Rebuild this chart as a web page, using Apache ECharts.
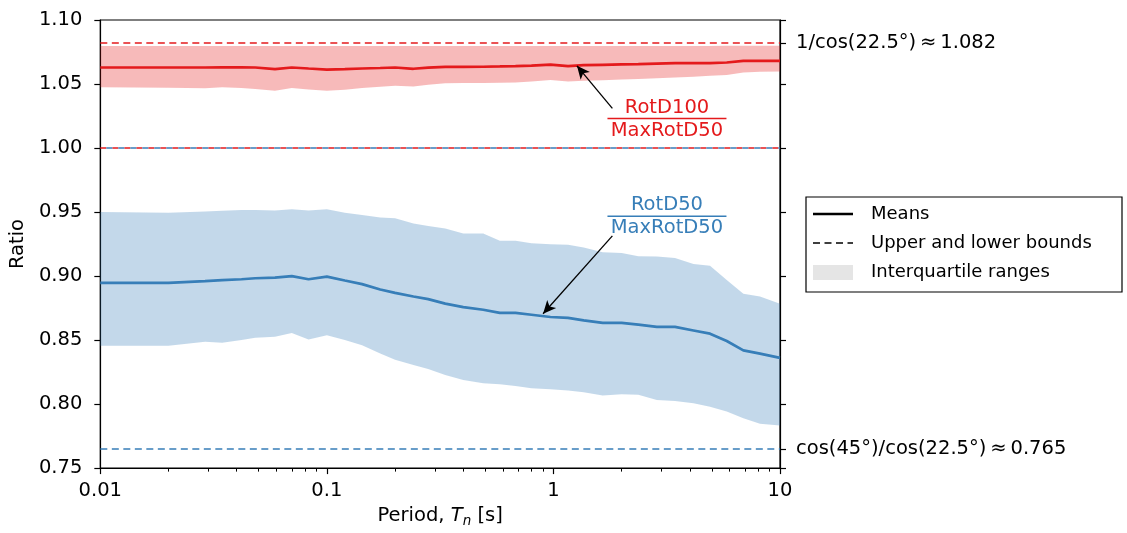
<!DOCTYPE html>
<html>
<head>
<meta charset="utf-8">
<script src="https://cdn.jsdelivr.net/npm/echarts@6/dist/echarts.min.js"></script>
<style>
  html, body { margin: 0; padding: 0; background: #fff; }
  #chart { width: 1127px; height: 533px; }
</style>
</head>
<body>
<div id="chart"></div>
<script>
// periods (s)
const periods = [0.01, 0.02, 0.029, 0.0345, 0.042, 0.0483, 0.059, 0.07, 0.083, 0.1, 0.12, 0.143,
  0.172, 0.2, 0.241, 0.28, 0.333, 0.4, 0.49, 0.58, 0.68, 0.8, 0.97, 1.16,
  1.36, 1.65, 2.0, 2.37, 2.86, 3.44, 4.15, 4.91, 5.82, 6.89, 8.16, 10];

// RotD100 / MaxRotD50
const redMean = [1.0629, 1.0629, 1.0629, 1.0630, 1.0630, 1.0629, 1.0616, 1.0629, 1.0621, 1.0613, 1.0616, 1.0621,
  1.0625, 1.0629, 1.0619, 1.0628, 1.0634, 1.0634, 1.0635, 1.0637, 1.0639, 1.0643, 1.0652, 1.0639,
  1.0647, 1.0650, 1.0653, 1.0655, 1.0660, 1.0663, 1.0663, 1.0663, 1.0668, 1.0681, 1.0681, 1.0681];
const redLower = [1.0474, 1.0470, 1.0466, 1.0474, 1.0468, 1.0461, 1.0448, 1.0469, 1.0458, 1.0448, 1.0455, 1.0469,
  1.0478, 1.0487, 1.0481, 1.0495, 1.0505, 1.0507, 1.0508, 1.0510, 1.0512, 1.0520, 1.0531, 1.0520,
  1.0526, 1.0530, 1.0535, 1.0539, 1.0545, 1.0551, 1.0557, 1.0564, 1.0570, 1.0590, 1.0595, 1.0598];
const redUpper = [1.0797, 1.0797, 1.0797, 1.0797, 1.0797, 1.0797, 1.0797, 1.0797, 1.0797, 1.0797, 1.0797, 1.0797,
  1.0797, 1.0797, 1.0797, 1.0797, 1.0797, 1.0797, 1.0797, 1.0797, 1.0797, 1.0797, 1.0797, 1.0797,
  1.0797, 1.0797, 1.0797, 1.0797, 1.0797, 1.0797, 1.0797, 1.0797, 1.0798, 1.0799, 1.0799, 1.0799];

// RotD50 / MaxRotD50
const blueMean = [0.8947, 0.8947, 0.8960, 0.8968, 0.8975, 0.8983, 0.8988, 0.8999, 0.8975, 0.8996, 0.8965, 0.8937,
  0.8895, 0.8869, 0.8840, 0.8820, 0.8785, 0.8757, 0.8737, 0.8712, 0.8712, 0.8698, 0.8680, 0.8673,
  0.8654, 0.8634, 0.8634, 0.8621, 0.8603, 0.8603, 0.8575, 0.8550, 0.8493, 0.8420, 0.8394, 0.8361];
const blueUpper = [0.9500, 0.9495, 0.9505, 0.9510, 0.9516, 0.9516, 0.9513, 0.9521, 0.9513, 0.9521, 0.9495, 0.9477,
  0.9457, 0.9451, 0.9410, 0.9391, 0.9371, 0.9332, 0.9332, 0.9275, 0.9275, 0.9257, 0.9249, 0.9244,
  0.9224, 0.9185, 0.9180, 0.9154, 0.9152, 0.9141, 0.9094, 0.9080, 0.8969, 0.8861, 0.8840, 0.8784];
const blueLower = [0.8455, 0.8455, 0.8486, 0.8479, 0.8500, 0.8518, 0.8525, 0.8556, 0.8504, 0.8538, 0.8500, 0.8460,
  0.8396, 0.8347, 0.8305, 0.8274, 0.8227, 0.8188, 0.8163, 0.8155, 0.8142, 0.8124, 0.8116, 0.8106,
  0.8093, 0.8067, 0.8077, 0.8072, 0.8032, 0.8024, 0.8006, 0.7980, 0.7942, 0.7890, 0.7846, 0.7833];

// bounds (dashed lines)
const redBounds = [1.082, 1.0];
const blueBounds = [1.0, 0.765];

// axis ticks
const yTicks = [0.75, 0.80, 0.85, 0.90, 0.95, 1.00, 1.05, 1.10];
const xMinorTicks = [0.02, 0.03, 0.04, 0.05, 0.06, 0.07, 0.08, 0.09,
  0.2, 0.3, 0.4, 0.5, 0.6, 0.7, 0.8, 0.9, 2, 3, 4, 5, 6, 7, 8, 9];
const rightLabels = { '1.082': '1/cos(22.5°)\u2009≈\u20091.082', '0.765': 'cos(45°)/cos(22.5°)\u2009≈\u20090.765' };

// annotations: arrow tail, arrow head, fraction label centre (data coords)
const redArrow = [[1.82, 1.031], [1.27, 1.0642]];
const blueArrow = [[1.82, 0.9314], [0.9, 0.8706]];
const redLabelAt = [3.17, 1.0231];
const blueLabelAt = [3.17, 0.9467];

const RED = '#e41a1c';
const BLUE = '#377eb8';
const FONT = 'DejaVu Sans';
const FS = 19.5;

const chart = echarts.init(document.getElementById('chart'));

function pairs(ys) {
  return periods.map((p, i) => [p, ys[i]]);
}

// interquartile band: one polygon through the upper values and back along the lower ones
function band(lower, upper, color) {
  return {
    type: 'custom', silent: true, z: 1, clip: true,
    data: periods.map((p, i) => [p, lower[i], upper[i]]),
    encode: { x: 0, y: [1, 2] },
    renderItem: (params, api) => {
      if (params.dataIndex !== 0) return null;
      const top = periods.map((p, i) => api.coord([p, upper[i]]));
      const bottom = periods.map((p, i) => api.coord([p, lower[i]])).reverse();
      return {
        type: 'polygon',
        shape: { points: top.concat(bottom) },
        style: { fill: color, opacity: 0.3 }
      };
    }
  };
}

const arrowStyle = { color: '#000', type: 'solid', width: 1.3 };

function arrow(a) {
  return [
    { coord: a[0], symbol: 'none', lineStyle: arrowStyle },
    { coord: a[1], symbol: 'arrow', symbolSize: [9, 13] }
  ];
}

function bound(v, color, dash, offset) {
  return { yAxis: v, lineStyle: { color: color, type: dash, dashOffset: offset || 0, width: 1.7 } };
}

chart.setOption({
  animation: false,
  grid: {
    left: 100, right: 347, top: 20, bottom: 63,
    show: true, borderColor: '#000', borderWidth: 1.2, backgroundColor: 'transparent'
  },
  xAxis: [
    {
      type: 'log', logBase: 10, min: 0.01, max: 10,
      name: '{a|Period, }{i|T}{s|n}{a| [s]}',
      nameLocation: 'middle', nameGap: 31,
      nameTextStyle: {
        rich: {
          a: { fontFamily: FONT, fontSize: FS, color: '#000', lineHeight: 24 },
          i: { fontFamily: FONT, fontSize: FS, color: '#000', fontStyle: 'italic', lineHeight: 24 },
          s: { fontFamily: FONT, fontSize: 13.5, color: '#000', fontStyle: 'italic', lineHeight: 13, verticalAlign: 'bottom' }
        }
      },
      axisLine: { lineStyle: { color: '#000', width: 1.2 } },
      axisTick: { length: 6, lineStyle: { color: '#000', width: 1.2 } },
      axisLabel: {
        fontFamily: FONT, fontSize: FS, color: '#000', margin: 13,
        formatter: v => String(parseFloat(v.toPrecision(3)))
      },
      splitLine: { show: false }
    },
    {
      // minor log ticks
      type: 'log', logBase: 10, min: 0.01, max: 10, position: 'bottom',
      axisLine: { show: false },
      axisTick: { length: 3.5, customValues: xMinorTicks, lineStyle: { color: '#000', width: 1 } },
      axisLabel: { show: false },
      splitLine: { show: false }
    }
  ],
  yAxis: [
    {
      type: 'value', min: 0.75, max: 1.10, interval: 0.05,
      name: 'Ratio', nameLocation: 'middle', nameGap: 63, nameRotate: 90,
      nameTextStyle: { fontFamily: FONT, fontSize: FS, color: '#000' },
      axisLine: { show: true, lineStyle: { color: '#000', width: 1.2 } },
      axisTick: { show: true, length: 6, customValues: yTicks, lineStyle: { color: '#000', width: 1.2 } },
      axisLabel: {
        fontFamily: FONT, fontSize: FS, color: '#000', margin: 18,
        customValues: yTicks, formatter: v => v.toFixed(2)
      },
      splitLine: { show: false }
    },
    {
      type: 'value', min: 0.75, max: 1.10, position: 'right',
      axisLine: { show: true, lineStyle: { color: '#000', width: 1.2 } },
      axisTick: {
        show: true, length: 6, lineStyle: { color: '#000', width: 1.2 },
        customValues: yTicks.concat([redBounds[0], blueBounds[1]])
      },
      axisLabel: {
        fontFamily: FONT, fontSize: FS, color: '#000', margin: 16,
        customValues: [redBounds[0], blueBounds[1]],
        formatter: v => rightLabels[v.toFixed(3)] || ''
      },
      splitLine: { show: false }
    }
  ],
  series: [
    band(redLower, redUpper, RED),
    band(blueLower, blueUpper, BLUE),
    {
      type: 'line', data: pairs(redMean), symbol: 'none', z: 3,
      lineStyle: { color: RED, width: 2.7 },
      markLine: {
        silent: true, symbol: 'none', precision: 3, label: { show: false },
        data: [
          bound(redBounds[0], RED, [7, 4.5]),
          bound(redBounds[1], RED, [6, 6]),
          arrow(redArrow)
        ]
      }
    },
    {
      type: 'line', data: pairs(blueMean), symbol: 'none', z: 3,
      lineStyle: { color: BLUE, width: 2.7 },
      markLine: {
        silent: true, symbol: 'none', precision: 3, label: { show: false },
        data: [
          bound(blueBounds[0], BLUE, [6, 6], 6),
          bound(blueBounds[1], BLUE, [7, 4.5]),
          arrow(blueArrow)
        ]
      }
    }
  ]
});

// fraction labels + legend drawn as graphic elements
function fraction(at, top, bottom, color) {
  const p = chart.convertToPixel({ gridIndex: 0 }, at);
  const style = { fontFamily: FONT, fontSize: FS, fill: color, align: 'center', verticalAlign: 'middle' };
  return {
    type: 'group', x: p[0], y: p[1],
    children: [
      { type: 'text', x: 0, y: -11, style: { ...style, text: top } },
      { type: 'line', shape: { x1: -59.5, y1: 0, x2: 59.5, y2: 0 }, style: { stroke: color, lineWidth: 1.6 } },
      { type: 'text', x: 0, y: 12, style: { ...style, text: bottom } }
    ]
  };
}

const legendText = { fontFamily: FONT, fontSize: 18, fill: '#000', verticalAlign: 'middle' };

chart.setOption({
  graphic: [
    fraction(redLabelAt, 'RotD100', 'MaxRotD50', RED),
    fraction(blueLabelAt, 'RotD50', 'MaxRotD50', BLUE),
    {
      type: 'group', x: 806, y: 197,
      children: [
        { type: 'rect', shape: { x: 0, y: 0, width: 316, height: 95 }, style: { fill: '#fff', stroke: '#000', lineWidth: 1.2 } },
        { type: 'line', shape: { x1: 7, y1: 17, x2: 47, y2: 17 }, style: { stroke: '#000', lineWidth: 2.7 } },
        { type: 'text', x: 65, y: 17, style: { ...legendText, text: 'Means' } },
        { type: 'line', shape: { x1: 7, y1: 46, x2: 47, y2: 46 }, style: { stroke: '#000', lineWidth: 1.7, lineDash: [7, 4.5] } },
        { type: 'text', x: 65, y: 46, style: { ...legendText, text: 'Upper and lower bounds' } },
        { type: 'rect', shape: { x: 7, y: 68, width: 40, height: 15 }, style: { fill: '#e5e5e5' } },
        { type: 'text', x: 65, y: 75, style: { ...legendText, text: 'Interquartile ranges' } }
      ]
    }
  ]
});
</script>
</body>
</html>
